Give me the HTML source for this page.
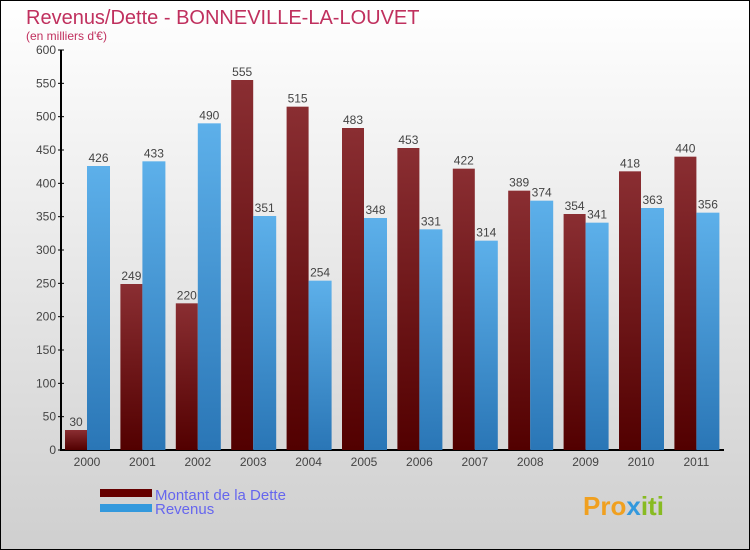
<!DOCTYPE html>
<html><head><meta charset="utf-8"><style>
body{margin:0}
#wrap{width:750px;height:550px;position:relative;font-family:"Liberation Sans",sans-serif;background:linear-gradient(#ffffff,#cfcfcf);border:1px solid #000;box-sizing:border-box;overflow:hidden}
</style></head><body>
<div id="wrap">
<svg id="c" width="750" height="550" style="position:absolute;left:-1px;top:-1px">
<defs>
<linearGradient id="gd" x1="0" y1="0" x2="0" y2="1"><stop offset="0" stop-color="#8a2e32"/><stop offset="1" stop-color="#520000"/></linearGradient>
<linearGradient id="gr" x1="0" y1="0" x2="0" y2="1"><stop offset="0" stop-color="#5db0ea"/><stop offset="1" stop-color="#2a76b6"/></linearGradient>
</defs>
<text x="26" y="24" font-size="20" fill="#c0305e">Revenus/Dette - BONNEVILLE-LA-LOUVET</text>
<text x="26" y="40" font-size="12" fill="#c0305e">(en milliers d'€)</text>
<g id="g"></g>
<rect x="100" y="489" width="52" height="8" fill="#650000"/>
<rect x="100" y="504" width="52" height="8" fill="#3399dd"/>
<text x="155" y="500" font-size="15" fill="#6666ee">Montant de la Dette</text>
<text x="155" y="514" font-size="15" fill="#6666ee">Revenus</text>
<text x="583" y="515" font-size="26" font-weight="bold" fill="#f0a020">Pro<tspan fill="#3399dd">x</tspan><tspan fill="#88bb22">iti</tspan></text>
</svg>
</div>
<script>
const years=["2000","2001","2002","2003","2004","2005","2006","2007","2008","2009","2010","2011"];
const dette=[30,249,220,555,515,483,453,422,389,354,418,440];
const revenus=[426,433,490,351,254,348,331,314,374,341,363,356];
const yTicks=[0,50,100,150,200,250,300,350,400,450,500,550,600];
const NS="http://www.w3.org/2000/svg";
const g=document.getElementById('g');
const y=v=>450-v*400/600;
const cx=i=>87+i*55.4;
function el(t,a){const e=document.createElementNS(NS,t);for(const k in a)e.setAttribute(k,a[k]);g.appendChild(e);return e;}
let ax=el('line',{x1:61,y1:50,x2:61,y2:450,stroke:'#000','stroke-width':2});


let bx=el('line',{x1:60,y1:450,x2:724,y2:450,stroke:'#000','stroke-width':2});


yTicks.forEach(v=>{
  let l=el('line',{x1:58,y1:y(v),x2:64,y2:y(v),stroke:'#000'});
  
  
  let t=el('text',{x:56,y:y(v)+4,'font-size':12,'text-anchor':'end',fill:'#444'});
  t.textContent=v;
  
  
});
years.forEach((yr,i)=>{
  const c=cx(i);
  let t=el('text',{x:c,y:466,'font-size':12,'text-anchor':'middle',fill:'#444'});
  t.textContent=yr;
  
  
  let b1=el('rect',{x:c-22,y:y(dette[i]),width:22,height:450-y(dette[i]),fill:'url(#gd)'});
  
  
  let b2=el('rect',{x:c,y:y(revenus[i]),width:23,height:450-y(revenus[i]),fill:'url(#gr)'});
  
  
  let l1=el('text',{x:c-11,y:y(dette[i])-4,'font-size':12,'text-anchor':'middle',fill:'#444'});
  l1.textContent=dette[i];
  
  
  let l2=el('text',{x:c+11.5,y:y(revenus[i])-4,'font-size':12,'text-anchor':'middle',fill:'#444'});
  l2.textContent=revenus[i];
  
  
});
</script>
</body></html>
